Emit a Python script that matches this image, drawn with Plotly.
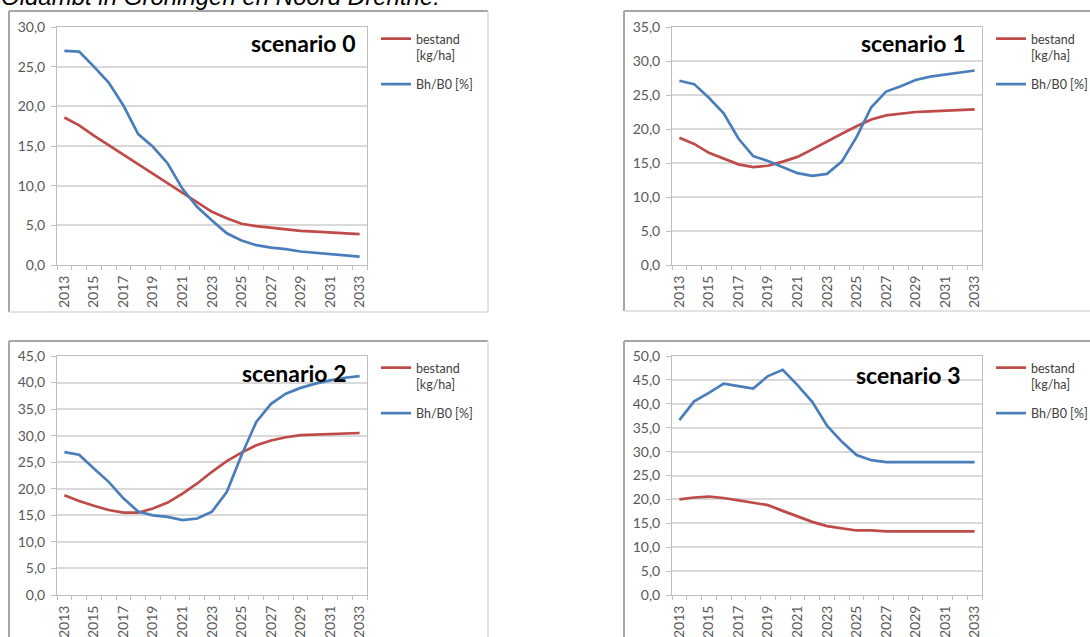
import plotly.graph_objects as go

# ---------------------------------------------------------------
# Data: stock (bestand, kg/ha) and Bh/B0 (%) per year, 4 scenarios
# ---------------------------------------------------------------
years = list(range(2013, 2034))
tick_years = list(range(2013, 2034, 2))

bestand_s0 = [18.6, 17.6, 16.3, 15.1, 13.8, 12.7, 11.5, 10.3, 9.0, 7.8, 6.7,
              5.9, 5.2, 4.9, 4.7, 4.5, 4.3, 4.2, 4.1, 4.0, 3.9]
bhb0_s0 = [27.0, 26.9, 25.0, 23.0, 20.1, 16.5, 14.9, 12.8, 9.6, 7.3, 5.6,
           4.0, 3.1, 2.5, 2.2, 2.0, 1.7, 1.55, 1.4, 1.2, 1.05]

bestand_s1 = [18.7, 17.8, 16.5, 15.6, 14.8, 14.4, 14.6, 15.2, 15.9, 17.0, 18.2,
              19.3, 20.4, 21.4, 22.0, 22.3, 22.5, 22.6, 22.7, 22.8, 22.9]
bhb0_s1 = [27.1, 26.6, 24.6, 22.3, 18.6, 16.0, 15.3, 14.4, 13.5, 13.1, 13.4,
           15.2, 18.8, 23.2, 25.5, 26.3, 27.2, 27.7, 28.0, 28.4, 28.6]

bestand_s2 = [18.8, 17.7, 16.8, 16.0, 15.5, 15.5, 16.3, 17.4, 19.1, 21.0, 23.2,
              25.2, 26.8, 28.2, 29.1, 29.7, 30.1, 30.2, 30.3, 30.4, 30.5]
bhb0_s2 = [26.9, 26.4, 23.8, 21.3, 18.2, 15.7, 15.0, 14.7, 14.1, 14.4, 15.7,
           19.4, 26.3, 32.6, 36.0, 37.9, 39.0, 39.8, 40.4, 40.9, 41.2]

bestand_s3 = [20.0, 20.4, 20.6, 20.3, 19.8, 19.3, 18.8, 17.6, 16.4, 15.3, 14.4,
              13.9, 13.5, 13.5, 13.3, 13.3, 13.3, 13.3, 13.3, 13.3, 13.3]
bhb0_s3 = [36.6, 40.5, 42.3, 44.2, 43.7, 43.2, 45.8, 47.1, 43.9, 40.4, 35.4,
           32.1, 29.3, 28.2, 27.8, 27.8, 27.8, 27.8, 27.8, 27.8, 27.8]

scenario_names = ["scenario 0", "scenario 1", "scenario 2", "scenario 3"]
bestand_series = [bestand_s0, bestand_s1, bestand_s2, bestand_s3]
bhb0_series = [bhb0_s0, bhb0_s1, bhb0_s2, bhb0_s3]
y_max = [30, 35, 45, 50]

bestand_label = "bestand<br>[kg/ha]"
bhb0_label = "Bh/B0 [%]"
page_heading = "Oldambt in Groningen en Noord Drenthe."

# ---------------------------------------------------------------
# Layout helpers (pixel geometry of the 1090 x 637 page)
# ---------------------------------------------------------------
W, H = 1090, 637


def fx(p):
    return p / W


def fy(p):
    return 1 - p / H


# plot areas: left, right, top, bottom (px)
plot_boxes = [(57, 367, 27, 265), (672, 982, 27, 265),
              (57, 367, 356, 595), (672, 982, 356, 595)]
# chart frames: left, right, top, bottom (px)
frames = [(9, 488, 11, 312), (624, 1200, 11, 311),
          (9, 488, 341, 700), (624, 1200, 341, 700)]
legend_xy = [(376, 24), (991, 24), (376, 353), (991, 353)]
title_xy = [(357, 43), (967, 43), (348, 373), (962, 375)]

RED = "#BE4B48"
BLUE = "#4A7EBB"
AXIS_GREY = "#BFBFBF"
GRID_GREY = "#D9D9D9"
TICK_FONT = dict(family="Lato, sans-serif", size=14, color="#595959")
LEGEND_FONT = dict(family="Lato, sans-serif", size=12.5, color="#404040")

fig = go.Figure()
layout = dict(
    width=W, height=H,
    margin=dict(l=0, r=0, t=0, b=0, autoexpand=False),
    paper_bgcolor="white", plot_bgcolor="white",
    separators=",.",
    showlegend=True,
)

shapes = []
annotations = []

for i in range(4):
    n = "" if i == 0 else str(i + 1)
    xa, ya = "x" + n, "y" + n
    lg = "legend" + n
    l, r, t, b = plot_boxes[i]

    fig.add_trace(go.Scatter(
        x=years, y=bestand_series[i], mode="lines", name=bestand_label,
        line=dict(color=RED, width=2.7), xaxis=xa, yaxis=ya, legend=lg,
        legendgroup="bestand" + n, hoverinfo="skip"))
    fig.add_trace(go.Scatter(
        x=years, y=bhb0_series[i], mode="lines", name=bhb0_label,
        line=dict(color=BLUE, width=2.7), xaxis=xa, yaxis=ya, legend=lg,
        legendgroup="bhb0" + n, hoverinfo="skip"))

    layout["xaxis" + n] = dict(
        domain=[fx(l), fx(r)], anchor=ya, automargin=False,
        range=[2012.5, 2033.5],
        tickmode="array", tickvals=tick_years,
        ticktext=[str(v) for v in tick_years],
        tickangle=-90, tickfont=TICK_FONT,
        ticks="outside", ticklen=4, tickcolor="rgba(0,0,0,0)",
        minor=dict(tickmode="array",
                   tickvals=[v - 0.5 for v in years] + [years[-1] + 0.5],
                   ticks="outside", ticklen=4, tickcolor=AXIS_GREY,
                   showgrid=False),
        showline=True, linecolor=AXIS_GREY, linewidth=1, mirror=True,
        showgrid=False, zeroline=False, fixedrange=True,
    )
    layout["yaxis" + n] = dict(
        domain=[fy(b), fy(t)], anchor=xa, automargin=False,
        range=[0, y_max[i]], tick0=0, dtick=5, tickformat=".1f",
        tickfont=TICK_FONT, ticklabelstandoff=3,
        ticks="outside", ticklen=5, tickcolor=AXIS_GREY,
        showline=True, linecolor=AXIS_GREY, linewidth=1, mirror=True,
        showgrid=True, gridcolor=GRID_GREY, gridwidth=1.6,
        zeroline=False, fixedrange=True,
    )

    lx, ly = legend_xy[i]
    layout[lg] = dict(
        x=fx(lx), y=fy(ly), xanchor="left", yanchor="top",
        xref="paper", yref="paper",
        bgcolor="rgba(0,0,0,0)", borderwidth=0,
        font=LEGEND_FONT, valign="top", itemwidth=30,
        tracegroupgap=10,
    )

    # chart frame: darker top/left edge, lighter bottom/right edge
    fl, fr, ft, fb = frames[i]
    shapes += [
        dict(type="line", xref="paper", yref="paper", x0=fx(fl), x1=fx(fr),
             y0=fy(ft), y1=fy(ft), line=dict(color="#A6A6A6", width=2)),
        dict(type="line", xref="paper", yref="paper", x0=fx(fl), x1=fx(fl),
             y0=fy(ft), y1=fy(fb), line=dict(color="#A6A6A6", width=2)),
        dict(type="line", xref="paper", yref="paper", x0=fx(fl), x1=fx(fr),
             y0=fy(fb), y1=fy(fb), line=dict(color="#D9D9D9", width=1.5)),
        dict(type="line", xref="paper", yref="paper", x0=fx(fr), x1=fx(fr),
             y0=fy(ft), y1=fy(fb), line=dict(color="#D9D9D9", width=1.5)),
    ]

    tx, ty = title_xy[i]
    annotations.append(dict(
        text=scenario_names[i], xref="paper", yref="paper",
        x=fx(tx), y=fy(ty), xanchor="right", yanchor="middle",
        showarrow=False,
        font=dict(family="Lato, sans-serif", size=23, color="#000000",
                  weight="bold")))

# page heading running off the top of the page
annotations.append(dict(
    text="<i>" + page_heading + "</i>", xref="paper", yref="paper",
    x=fx(-1), y=fy(12), xanchor="left", yanchor="bottom", showarrow=False,
    font=dict(family="Liberation Sans, Arial, sans-serif", size=24,
              color="#000000")))

layout["shapes"] = shapes
layout["annotations"] = annotations
fig.update_layout(**layout)

fig.write_html("out.html")
